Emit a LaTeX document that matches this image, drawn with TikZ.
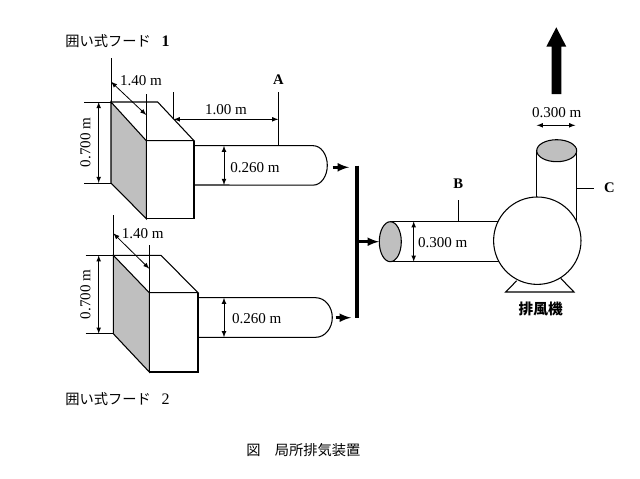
\documentclass[tikz,border=0pt]{standalone}
\usepackage{fontspec}
\setmainfont{Liberation Serif}
\newfontfamily\cjk{Noto Sans CJK JP}
\definecolor{hoodgray}{HTML}{BFBFBF}
\tikzset{
  dimlabel/.style={font=\fontsize{11.3}{14}\selectfont},
  jplabel/.style={font=\cjk\fontsize{10.7}{12}\selectfont,anchor=west,inner sep=0pt},
  leader/.style={line width=0.6pt},
  outline/.style={line width=0.8pt},
  flow/.style={-latex,line width=1.9pt},
  bothtip/.style={latex-latex,line width=0.6pt}
}
\begin{document}
\begin{tikzpicture}[x=0.75pt,y=-0.75pt]
\useasboundingbox (0,0) rectangle (640,479);
\fill[white] (0,0) rectangle (640,479);
\node[jplabel] (hoodOne) at (65,40.7) {囲い式フード\hspace{0.75em}{\fontspec{Liberation Serif}\bfseries\fontsize{12}{12}\selectfont 1}};
\draw[outline,fill=hoodgray] (111,102)--(146.3,140.7)--(146.3,218.7)--(111,183)--cycle;
\draw[outline] (111,102)--(157.7,102)--(194,140.7)coordinate(hoodOneTop)--(146.3,140.7);
\draw[outline] (hoodOneTop)--(194,218.7)--(146.3,218.7);
\draw[outline] (194,145.7)--(313.3,145.7) arc[start angle=-90,end angle=90,x radius=14,y radius=19.7]--(194,185);
\draw[leader] (84,102)--(111,102);
\draw[leader] (84,183)--(111,183);
\draw[bothtip] (98.7,102)--(98.7,183)node[pos=0.5,rotate=90,anchor=south,yshift=2.5pt,dimlabel](hoodOneHeight){0.700 m};
\draw[leader] (111,58)--(111,102);
\draw[leader] (146.3,94)--(146.3,140.7);
\draw[bothtip] (111,81.7)--(146.3,115);
\node[dimlabel] (hoodOneDepth) at (141,81) {1.40 m};
\draw[leader] (173.7,92.3)--(173.7,119.3);
\draw[leader] (278.3,92.3)--(278.3,145.7);
\draw[bothtip] (173.7,119.3)--(278.3,119.3)node[pos=0.5,above,dimlabel](ductLength){1.00 m};
\node[font=\fontsize{11}{14}\selectfont\bfseries] (pointA) at (278.3,79.3) {A};
\draw[bothtip] (224,145.7)--(224,185);
\node[dimlabel] (ductOneDia) at (255,167.3) {0.260 m};
\draw[flow] (332.7,167.3)--(349,167.3);
\draw[leader] (112.9,215.3)--(112.9,233);
\node[jplabel] (hoodTwo) at (65,399.3) {囲い式フード\hspace{0.75em}{\fontspec{Liberation Serif}\fontsize{12}{12}\selectfont 2}};
\draw[outline,fill=hoodgray] (113.3,255.3)--(149.3,292.7)--(149.3,372)--(113.3,333.7)--cycle;
\draw[outline] (113.3,255.3)--(161,255.3)--(198,292.7)coordinate(hoodTwoTop)--(149.3,292.7);
\draw[outline] (hoodTwoTop)--(198,372)--(149.3,372);
\draw[outline] (198,297.7)--(315.7,297.7) arc[start angle=-90,end angle=90,x radius=16.6,y radius=19.8]--(198,337.3);
\draw[leader] (85.7,255.3)--(113.3,255.3);
\draw[leader] (85.7,333.7)--(113.3,333.7);
\draw[bothtip] (98.7,255.3)--(98.7,333.7)node[pos=0.5,rotate=90,anchor=south,yshift=2.5pt,dimlabel](hoodTwoHeight){0.700 m};
\draw[leader] (113.3,233)--(113.3,255.3);
\draw[leader] (149.3,245)--(149.3,292.7);
\draw[bothtip] (113.3,233.3)--(149.3,268.7);
\node[dimlabel] (hoodTwoDepth) at (142.7,234) {1.40 m};
\draw[bothtip] (224,297.7)--(224,337.3);
\node[dimlabel] (ductTwoDia) at (256.7,318.3) {0.260 m};
\draw[flow] (335.7,317.7)--(351,317.7);
\draw[line width=2.8pt] (357.3,165.7)--(357.3,318.3);
\draw[flow] (357.3,241.7)--(379,241.7);
\draw[outline] (390.3,221.3)--(500,221.3);
\draw[outline] (390.3,261.7)--(500,261.7);
\draw[outline,fill=hoodgray] (390.3,241.7) ellipse[x radius=11,y radius=20];
\draw[leader] (458,200.3)--(458,221.3);
\node[font=\fontsize{11}{14}\selectfont\bfseries] (pointB) at (458.3,184) {B};
\draw[bothtip] (413.7,221.3)--(413.7,261.7);
\node[dimlabel] (mainDia) at (442.7,242.7) {0.300 m};
\draw[outline] (516.7,280.7)--(505.7,292)--(574,292)--(560.7,278.3);
\draw[outline] (536.7,150.7)--(536.7,200);
\draw[outline] (576.7,150.7)--(576.7,222);
\draw[outline,fill=hoodgray] (556.7,150.7) ellipse[x radius=20,y radius=11];
\draw[outline,fill=white] (537.3,240.7) circle[radius=43.7];
\draw[leader] (576.7,188.3)--(594,188.3);
\node[font=\fontsize{11}{14}\selectfont\bfseries] (pointC) at (609.3,187.7) {C};
\draw[bothtip] (536.7,125.3)--(575.3,125.3);
\node[dimlabel] (stackDia) at (556.7,113) {0.300 m};
\fill (551.7,94)--(551.7,46.7)--(546.3,46.7)--(556.3,27.3)--(566.3,46.7)--(561.3,46.7)--(561.3,94)--cycle;
\node[font=\cjk\fontsize{11}{12}\selectfont\bfseries] (fanName) at (540.7,309.3) {排風機};
\node[jplabel] (figCaption) at (246,450) {図\hspace{1em}局所排気装置};
\end{tikzpicture}
\end{document}
